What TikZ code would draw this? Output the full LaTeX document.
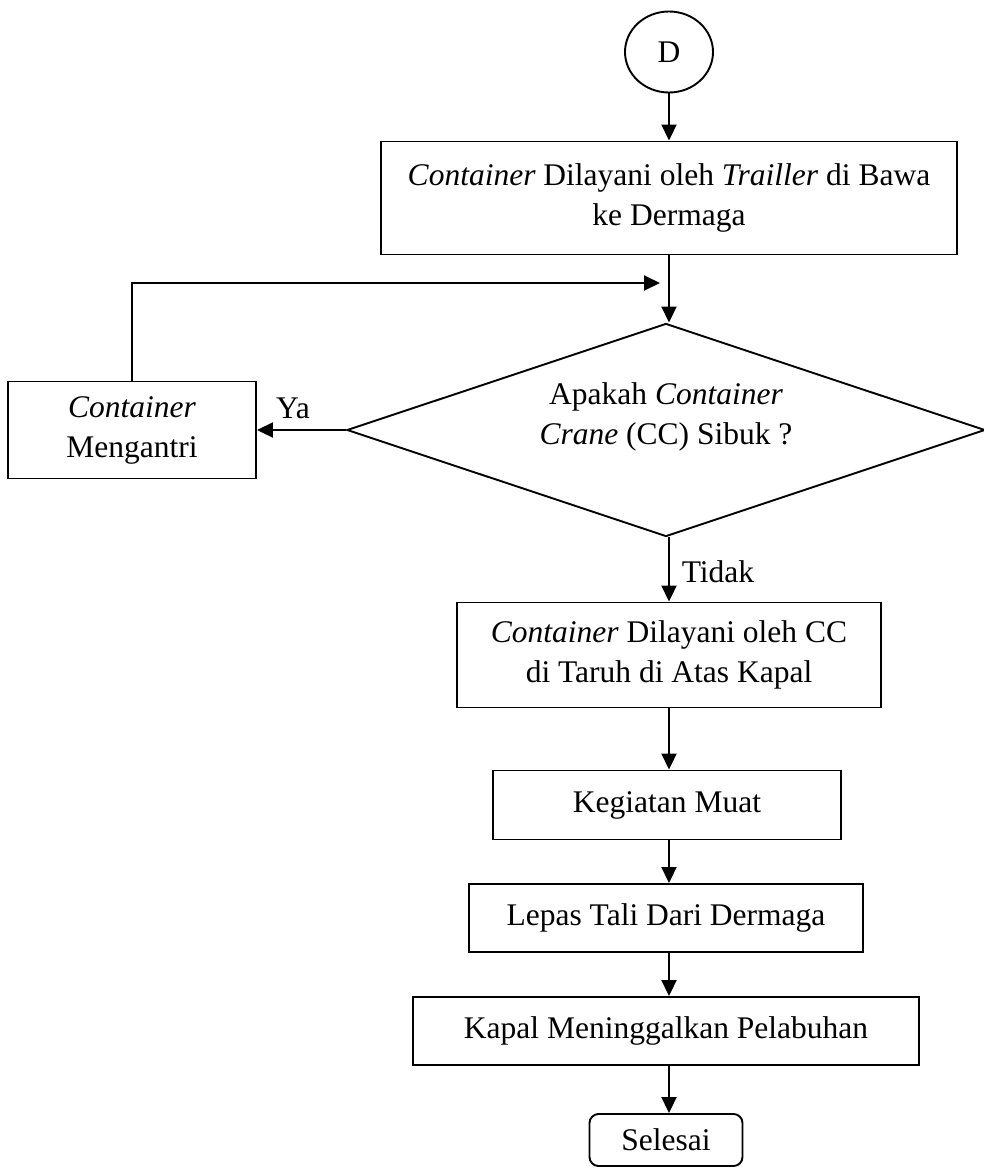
\documentclass[tikz,border=0pt]{standalone}
\usepackage{fontspec}
\setmainfont{Liberation Serif}
\usetikzlibrary{shapes.geometric,arrows.meta}

\begin{document}
\begin{tikzpicture}[x=1pt,y=-1pt,line width=1.9pt,
  font=\fontsize{31.5}{40}\selectfont,
  procbox/.style={draw,rectangle,align=center,inner sep=0pt},
  flow/.style={-{Triangle[length=16pt,width=15pt]}}]
  \useasboundingbox (0,0) rectangle (984,1173);

  % start connector
  \node[draw,ellipse,minimum width=88pt,minimum height=81pt,inner sep=0pt] (d) at (669,52) {D};

  % process boxes, top to bottom
  \node[procbox,minimum width=576pt,minimum height=113pt] (trail) at (669,198)
    {\textit{Container} Dilayani oleh \textit{Trailler} di Bawa\\ ke Dermaga};
  \node[draw,diamond,aspect=3,inner sep=0pt,minimum width=638pt,minimum height=213pt] (ask) at (666,430) {};
  \node[align=center] (asktext) at (666,417) {Apakah \textit{Container}\\ \textit{Crane} (CC) Sibuk ?};
  \node[procbox,minimum width=248pt,minimum height=97pt] (wait) at (132,430)
    {\textit{Container}\\ Mengantri};
  \node[procbox,minimum width=424pt,minimum height=105pt] (cc) at (669,655)
    {\textit{Container} Dilayani oleh CC\\ di Taruh di Atas Kapal};
  \node[procbox,minimum width=348pt,minimum height=69pt] (muat) at (667,805) {Kegiatan Muat};
  \node[procbox,minimum width=394pt,minimum height=68pt] (tali) at (666,918) {Lepas Tali Dari Dermaga};
  \node[procbox,minimum width=506pt,minimum height=68pt] (pergi) at (666,1031) {Kapal Meninggalkan Pelabuhan};
  \node[procbox,rounded corners=9pt,minimum width=153pt,minimum height=52pt] (end) at (666,1140) {Selesai};

  % branch labels
  \node (ya) at (293,408) {Ya};
  \node (tidak) at (718,572) {Tidak};

  % connectors
  \coordinate (loopin) at (660,283);
  \draw[flow] (d) -- (trail);
  \draw[flow] (trail.south) -- (trail.south |- ask.north);
  \draw[flow] (ask.west) -- (wait.east);
  \draw[flow] (wait.north) |- (loopin);
  \draw[flow] (ask.south -| cc.south) -- (cc.north);
  \draw[flow] (cc.south) -- (cc.south |- muat.north);
  \draw[flow] (muat.south -| cc.south) -- (cc.south |- tali.north);
  \draw[flow] (tali.south -| cc.south) -- (cc.south |- pergi.north);
  \draw[flow] (pergi.south -| cc.south) -- (cc.south |- end.north);
\end{tikzpicture}
\end{document}
